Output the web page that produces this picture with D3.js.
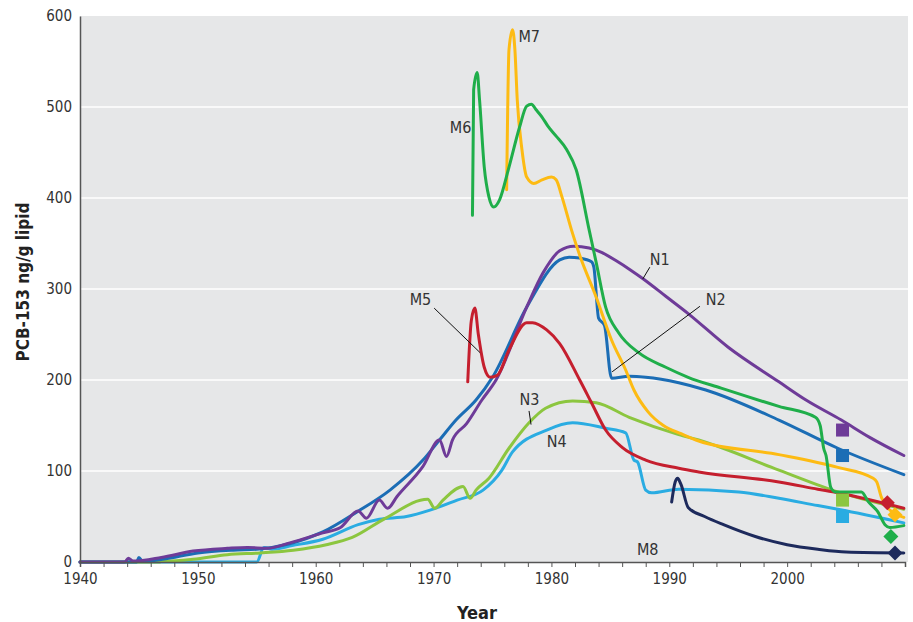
<!DOCTYPE html>
<html>
<head>
<meta charset="utf-8">
<script src="https://cdn.jsdelivr.net/npm/d3@7"></script>
<style>
  html, body { margin: 0; padding: 0; background: #ffffff; }
  svg { display: block; }
  text { font-family: "Liberation Sans Narrow", "Arial Narrow", "DejaVu Sans Condensed", sans-serif; }
</style>
</head>
<body>
<svg id="chart" width="913" height="622"></svg>
<script>
// ---------------- DATA ----------------
const seriesNames = ["N4", "N3", "N2", "N1", "M5", "M7", "M6", "M8"];
const seriesColors = {
  N1: "#6e3b98", N2: "#1b6db5", N3: "#8cc63f", N4: "#2aace2",
  M5: "#c51f2e", M6: "#1fae4a", M7: "#fdbb13", M8: "#1d2a5c"
};

const N1 = [[1940,0],[1943.8,0],[1944.1,4],[1944.5,1],[1946.9,5],[1949.6,12],[1952.5,15],[1954.2,16],[1955.9,15],
  [1957.8,21],[1960.6,32],[1962.1,38],[1963.6,56],[1964.3,48],[1965.4,68],[1966.1,59],[1966.9,72],[1969.1,105],
  [1970.5,134],[1971.1,116],[1971.6,134],[1972.8,152],[1974.1,178],[1975.3,200],[1977.9,280],[1979.3,318],
  [1980.7,342],[1981.9,347],[1983.2,345],[1984.3,340],[1985.5,331],[1986.7,321],[1987.8,311],[1989.7,292],
  [1991.6,273],[1995,236],[1999.3,198],[2001.6,178],[2004.6,156],[2007,137],[2009.9,117]];

const N2 = [[1940,0],[1944.8,0],[1945.0,5],[1945.3,1],[1947,3],[1950,10],[1953,13],[1955,14],[1957.8,20],
  [1960.6,33],[1963.5,55],[1966.3,79],[1969.1,112],[1970.5,134],[1971.9,156],[1973.6,178],[1975,203],
  [1977.9,280],[1980.7,332],[1981.5,335],[1982.4,334],[1983.4,330],[1983.6,324],[1984.0,268],[1984.5,260],
  [1985.1,202],[1986.6,204],[1988,203],[1990.8,197],[1993.1,189],[1999.3,156],[2004.3,125],[2009.9,96]];

const N3 = [[1940,0],[1946.8,0],[1947,2],[1947.3,1],[1949.6,3],[1952.5,8],[1955.3,10],[1958.1,13],[1960.9,19],
  [1963.1,27],[1965.9,48],[1969.5,69],[1970.1,59],[1970.8,68],[1972.5,83],[1973.1,70],[1973.6,79],[1974.7,92],
  [1976.4,125],[1978.1,153],[1979.5,169],[1981.8,177],[1983.8,175],[1986.6,159],[1990.8,140],[1992.5,134],
  [1999.3,101],[2004.3,77],[2009.9,58]];

const N4 = [[1940,0],[1955.0,0],[1955.6,16],[1956.3,14],[1958,18],[1960.6,25],[1963.6,41],[1965.4,47],
  [1967.7,50],[1969.7,57],[1972,68],[1974.2,79],[1975.8,101],[1976.7,121],[1979.6,145],[1981.8,153],
  [1984.6,147],[1986.3,142],[1987,112],[1987.3,110],[1988,79],[1988.5,76],[1990.8,80],[1995.9,77],
  [1999.3,70],[2002.6,62],[2004.3,58],[2009.9,43]];

const M5 = [[1972.9,198],[1973.2,265],[1973.5,279],[1973.8,250],[1974.3,214],[1974.8,203],[1975.4,205],
  [1976.4,233],[1977.9,263],[1978.4,263],[1979.6,255],[1980.7,240],[1982.4,200],[1983.4,175],[1984.6,145],
  [1986,126],[1988,112],[1990.8,103],[1992.5,99],[1999.3,88],[2002.6,80],[2004.3,76],[2009.9,59]];

const M6 = [[1973.3,381],[1973.4,519],[1973.7,538],[1973.9,508],[1974.3,434],[1974.7,401],[1975.1,390],
  [1975.6,398],[1976.4,434],[1977.3,478],[1977.9,501],[1978.3,503],[1978.7,497],[1979.2,489],[1979.7,479],
  [1980.4,468],[1981.3,453],[1982.1,431],[1983.2,365],[1983.8,329],[1984.6,280],[1985.7,252],[1987.4,230],
  [1989.7,214],[1991.6,203],[1994.4,191],[1999.3,171],[2002.4,159],[2002.8,150],[2003.1,125],[2003.3,117],
  [2003.7,82],[2004.1,77],[2006.3,77],[2006.9,66],[2007.7,55],[2008.3,41],[2008.7,38],[2009.9,40]];

const M7 = [[1976.2,409],[1976.4,563],[1976.7,585],[1976.9,563],[1977.1,508],[1977.5,453],[1977.9,423],
  [1978.5,416],[1979.2,420],[1980,423],[1980.4,420],[1980.9,401],[1981.7,365],[1982.4,337],[1983.8,291],
  [1985.1,244],[1986.3,211],[1987,189],[1988.2,165],[1989.5,150],[1991,141],[1992.5,133],[1999.3,118],
  [2004.3,104],[2007.3,92],[2007.6,88],[2008,71],[2008.5,60],[2009.9,49]];

const M8 = [[1990.2,66],[1990.5,88],[1990.7,92],[1991,85],[1991.6,60],[1993,50],[1994.6,41],[1997.3,28],
  [2000,19],[2002.6,14],[2005,11],[2009.9,10]];

const seriesData = { N1, N2, N3, N4, M5, M6, M7, M8 };

// end-point sample markers
const squareSeries = ["N1", "N2", "N3", "N4"];
const squareYears  = [2004.7, 2004.7, 2004.7, 2004.7];
const squareValues = [145, 117, 68, 50];
const diamondSeries = ["M5", "M7", "M6", "M8"];
const diamondYears  = [2008.5, 2009.15, 2008.8, 2009.15];
const diamondValues = [65, 52, 28, 10];

const yTicks = [0, 100, 200, 300, 400, 500, 600];
const xTickLabels = [1940, 1950, 1960, 1970, 1980, 1990, 2000];

// labels
const labelTexts   = ["M7", "M6", "M5", "N1", "N2", "N3", "N4", "M8"];
const labelYears   = [1977.2, 1973.2, 1969.8, 1988.35, 1993.1, 1977.3, 1979.6, 1987.25];
const labelValues  = [577, 478, 288, 332, 289, 179, 132, 14];
const labelAnchors = ["start", "end", "end", "start", "start", "start", "start", "start"];
// leader lines: [year1, value1, year2, value2]
const leaders = [
  [1970.05, 279, 1973.95, 230],
  [1988.35, 324, 1987.75, 311],
  [1992.6, 281, 1985.15, 209],
  [1978.1, 166, 1978.27, 151]
];

// ---------------- CHART ----------------
const svg = d3.select("#chart");
const x = d3.scaleLinear().domain([1940, 2010]).range([80, 905]);
const y = d3.scaleLinear().domain([0, 600]).range([562, 16]);

// plot background
svg.append("rect")
  .attr("x", x(1940)).attr("y", y(600))
  .attr("width", 908 - x(1940)).attr("height", y(0) - y(600))
  .attr("fill", "#e6e7e8");

// gridlines
svg.append("g").selectAll("line")
  .data(yTicks.filter(d => d > 0 && d < 600))
  .join("line")
  .attr("x1", x(1940)).attr("x2", 908)
  .attr("y1", d => y(d)).attr("y2", d => y(d))
  .attr("stroke", "#ffffff").attr("stroke-width", 1.5);

// lines
const line = d3.line()
  .x(d => x(d[0])).y(d => y(d[1]))
  .curve(d3.curveMonotoneX);

svg.append("g").selectAll("path")
  .data(seriesNames)
  .join("path")
  .attr("d", k => line(seriesData[k]))
  .attr("fill", "none")
  .attr("stroke", k => seriesColors[k])
  .attr("stroke-width", 3)
  .attr("stroke-linejoin", "round")
  .attr("stroke-linecap", "round");

// square markers
const sq = 13;
svg.append("g").selectAll("rect")
  .data(squareSeries.map((s, i) => ({ s, yr: squareYears[i], v: squareValues[i] })))
  .join("rect")
  .attr("x", d => x(d.yr) - sq / 2).attr("y", d => y(d.v) - sq / 2)
  .attr("width", sq).attr("height", sq)
  .attr("fill", d => seriesColors[d.s]);

// diamond markers
const dsz = 7.5;
svg.append("g").selectAll("path")
  .data(diamondSeries.map((s, i) => ({ s, yr: diamondYears[i], v: diamondValues[i] })))
  .join("path")
  .attr("d", d => {
    const cx = x(d.yr), cy = y(d.v);
    return `M${cx},${cy - dsz}L${cx + dsz},${cy}L${cx},${cy + dsz}L${cx - dsz},${cy}Z`;
  })
  .attr("fill", d => seriesColors[d.s]);

// axes
const xAxis = d3.axisBottom(x)
  .tickValues(d3.range(1940, 2011, 2))
  .tickSize(5)
  .tickFormat(d => xTickLabels.includes(d) ? String(d) : "");
const gx = svg.append("g").attr("transform", `translate(0,${y(0)})`).call(xAxis);
gx.select(".domain").attr("stroke", "#555").attr("stroke-width", 1.5);
gx.selectAll(".tick line").attr("stroke", "#555").attr("stroke-width", 1);
gx.selectAll(".tick text")
  .attr("font-size", 15).attr("fill", "#333").attr("dy", "0.95em")
  .style("font-family", "'Liberation Sans Narrow', 'Arial Narrow', 'DejaVu Sans Condensed', sans-serif");

const yAxis = d3.axisLeft(y).tickValues(yTicks).tickSize(0).tickPadding(8);
const gy = svg.append("g").attr("transform", `translate(${x(1940)},0)`).call(yAxis);
gy.select(".domain").attr("stroke", "#555").attr("stroke-width", 1.5);
gy.selectAll(".tick text")
  .attr("font-size", 15).attr("fill", "#333")
  .style("font-family", "'Liberation Sans Narrow', 'Arial Narrow', 'DejaVu Sans Condensed', sans-serif");

// axis titles
svg.append("text")
  .attr("transform", "translate(23,282) rotate(-90)")
  .attr("text-anchor", "middle").attr("dominant-baseline", "central")
  .attr("font-size", 17).attr("font-weight", "bold").attr("fill", "#222")
  .text("PCB-153 ng/g lipid");
svg.append("text")
  .attr("x", 477).attr("y", 612)
  .attr("text-anchor", "middle").attr("dominant-baseline", "central")
  .attr("font-size", 18).attr("font-weight", "bold").attr("fill", "#222")
  .text("Year");

// leader lines
svg.append("g").selectAll("line")
  .data(leaders)
  .join("line")
  .attr("x1", d => x(d[0])).attr("y1", d => y(d[1]))
  .attr("x2", d => x(d[2])).attr("y2", d => y(d[3]))
  .attr("stroke", "#111").attr("stroke-width", 1);

// series labels
svg.append("g").selectAll("text")
  .data(labelTexts.map((t, i) => ({ t, yr: labelYears[i], v: labelValues[i], a: labelAnchors[i] })))
  .join("text")
  .attr("x", d => x(d.yr)).attr("y", d => y(d.v))
  .attr("text-anchor", d => d.a).attr("dominant-baseline", "central")
  .attr("font-size", 16).attr("fill", "#333")
  .text(d => d.t);
</script>
</body>
</html>
